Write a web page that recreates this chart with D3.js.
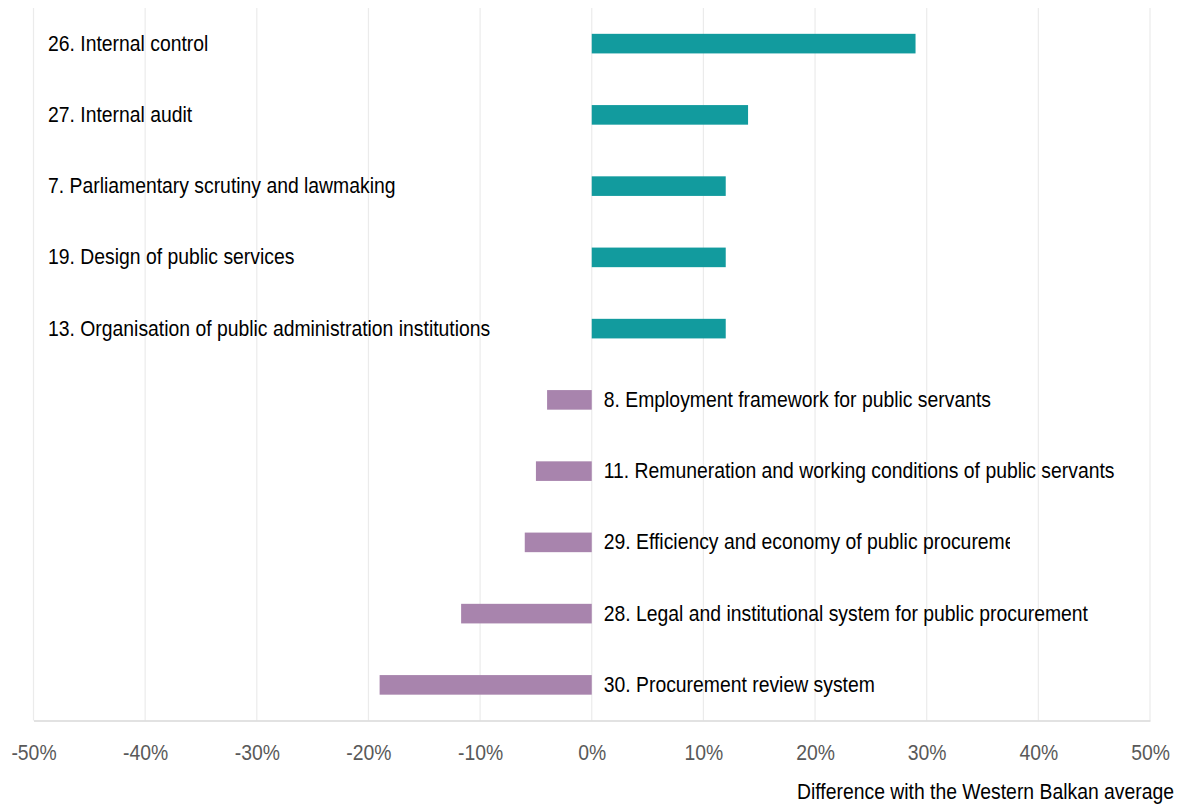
<!DOCTYPE html>
<html>
<head>
<meta charset="utf-8">
<script src="https://cdn.jsdelivr.net/npm/d3@7"></script>
<style>
  html, body { margin: 0; padding: 0; background: #ffffff; }
  svg { display: block; font-family: "Liberation Sans Narrow", "Arial Narrow", "Liberation Sans", Arial, sans-serif; }
</style>
</head>
<body>
<svg id="chart" width="1179" height="805"></svg>
<script>
// Difference of each principle score from the Western Balkan average (percent)
const categories = [
  "26. Internal control",
  "27. Internal audit",
  "7. Parliamentary scrutiny and lawmaking",
  "19. Design of public services",
  "13. Organisation of public administration institutions",
  "8. Employment framework for public servants",
  "11. Remuneration and working conditions of public servants",
  "29. Efficiency and economy of public procurement",
  "28. Legal and institutional system for public procurement",
  "30. Procurement review system"
];
const differences = [29, 14, 12, 12, 12, -4, -5, -6, -11.7, -19];
const tickValues = [-50, -40, -30, -20, -10, 0, 10, 20, 30, 40, 50];
const axisTitle = "Difference with the Western Balkan average";

const data = categories.map((c, i) => ({ name: c, value: differences[i] }));

const svg = d3.select("#chart");
const plot = { left: 33.5, right: 1150, top: 8, bottom: 720.5 };

// narrow lettering: regular sans squeezed horizontally
const squeeze = 0.88;

const x = d3.scaleLinear().domain([-50, 50]).range([plot.left, plot.right]);
const y = d3.scaleBand()
  .domain(categories)
  .range([plot.top, plot.bottom])
  .paddingInner(0.725)
  .paddingOuter(0.3625);

const colorPos = "#129b9e";
const colorNeg = "#a884ad";

// vertical gridlines
svg.append("g")
  .selectAll("line")
  .data(tickValues)
  .join("line")
  .attr("x1", d => x(d)).attr("x2", d => x(d))
  .attr("y1", plot.top).attr("y2", plot.bottom)
  .attr("stroke", "#ebebeb")
  .attr("stroke-width", 1.2);

// bottom axis with percent labels
const xAxis = d3.axisBottom(x)
  .tickValues(tickValues)
  .tickFormat(d => d + "%")
  .tickSize(0)
  .tickPadding(24);

const gx = svg.append("g")
  .attr("transform", `translate(0,${plot.bottom})`)
  .call(xAxis);
gx.select(".domain").attr("stroke", "#d9d9d9").attr("stroke-width", 1.5);
gx.selectAll("text")
  .attr("fill", "#595959")
  .attr("transform", `scale(${squeeze},1)`)
  .style("font-size", "22px");

// bars
svg.append("g")
  .selectAll("rect")
  .data(data)
  .join("rect")
  .attr("x", d => x(Math.min(0, d.value)))
  .attr("width", d => Math.abs(x(d.value) - x(0)))
  .attr("y", d => y(d.name))
  .attr("height", y.bandwidth())
  .attr("fill", d => d.value >= 0 ? colorPos : colorNeg);

// clip for the label whose text box is cut short on the right
const defs = svg.append("defs");
defs.append("clipPath").attr("id", "clip-short")
  .append("rect")
  .attr("x", x(0)).attr("y", 0)
  .attr("width", 1010 - x(0)).attr("height", 805);

// category labels: left of the panel for gains, next to zero for shortfalls
const labels = svg.append("g")
  .selectAll("g")
  .data(data)
  .join("g")
  .attr("clip-path", d => d.name.startsWith("29.") ? "url(#clip-short)" : null);

labels.append("text")
  .attr("transform", d => {
    const lx = d.value >= 0 ? x(-50) + 14.5 : x(0) + 12;
    const ly = y(d.name) + y.bandwidth() / 2;
    return `translate(${lx},${ly}) scale(${squeeze},1)`;
  })
  .attr("dy", "0.32em")
  .attr("fill", "#000000")
  .style("font-size", "22px")
  .text(d => d.name);

// axis title
svg.append("text")
  .attr("transform", `translate(1174,799) scale(${squeeze},1)`)
  .attr("text-anchor", "end")
  .attr("fill", "#000000")
  .style("font-size", "22px")
  .text(axisTitle);
</script>
</body>
</html>
